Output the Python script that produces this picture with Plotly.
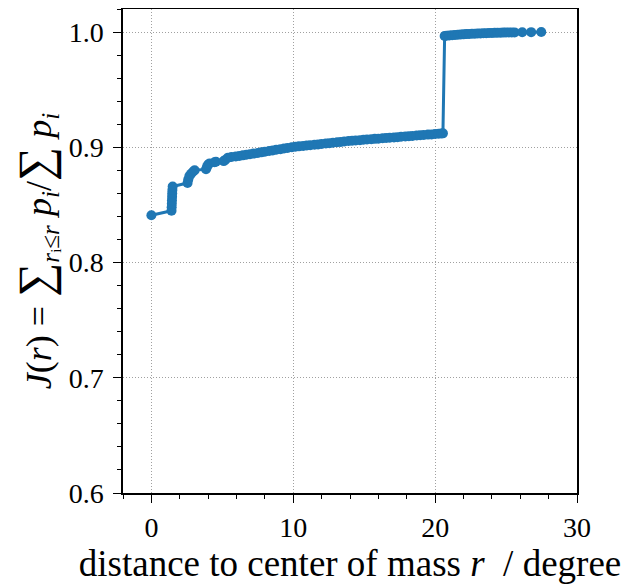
import plotly.graph_objects as go

# distance to center of mass r (degree)
r_values = [
    0.0, 1.42, 1.43, 1.44, 1.45, 1.46, 1.47, 1.48, 1.50,
    2.55, 2.60, 2.68, 2.80, 2.95, 3.05,
    3.85, 3.92, 4.00, 4.10, 4.45, 4.55,
    5.10, 5.20, 5.40, 5.65, 5.95, 6.20, 6.45, 6.70, 6.95, 7.20, 7.50, 7.75,
    8.00, 8.30, 8.55, 8.80, 9.10, 9.35, 9.60, 9.90, 10.15, 10.40, 10.70,
    10.95, 11.20, 11.50, 11.75, 12.00, 12.30, 12.55, 12.80, 13.10, 13.35,
    13.60, 13.90, 14.15, 14.40, 14.70, 14.95, 15.20, 15.50, 15.75, 16.00,
    16.30, 16.55, 16.80, 17.10, 17.35, 17.60, 17.90, 18.15, 18.40, 18.70,
    18.95, 19.20, 19.50, 19.75, 20.00, 20.25, 20.45, 20.55,
    20.67, 20.80, 21.00, 21.20, 21.40, 21.60, 21.80, 22.00, 22.20, 22.40,
    22.60, 22.80, 23.00, 23.20, 23.40, 23.60, 23.80, 24.00, 24.20, 24.40,
    24.60, 24.80, 25.00, 25.20, 25.40, 25.60, 26.14, 26.77, 27.48,
]
# cumulative fraction J(r)
j_values = [
    0.841, 0.845, 0.848, 0.851, 0.854, 0.857, 0.860, 0.863, 0.866,
    0.869, 0.872, 0.875, 0.877, 0.879, 0.880,
    0.881, 0.883, 0.885, 0.886, 0.887, 0.8875,
    0.888, 0.889, 0.891, 0.8915, 0.892, 0.8925, 0.893, 0.8935, 0.894, 0.8945, 0.8951, 0.8956,
    0.8962, 0.8968, 0.8973, 0.8978, 0.8984, 0.8989, 0.8994, 0.9001, 0.9005, 0.9008, 0.9012,
    0.9015, 0.9018, 0.9022, 0.9025, 0.9029, 0.9033, 0.9036, 0.9039, 0.9043, 0.9046,
    0.9050, 0.9054, 0.9057, 0.9059, 0.9062, 0.9065, 0.9067, 0.9070, 0.9073, 0.9075,
    0.9078, 0.9080, 0.9083, 0.9086, 0.9088, 0.9091, 0.9094, 0.9096, 0.9099, 0.9102,
    0.9104, 0.9107, 0.9110, 0.9112, 0.9115, 0.9117, 0.9119, 0.9121,
    0.9965, 0.9968, 0.9971, 0.9973, 0.9975, 0.9977, 0.9979, 0.9980, 0.9982, 0.9983,
    0.9985, 0.9986, 0.9987, 0.9988, 0.9989, 0.9990, 0.9991, 0.9992, 0.9993, 0.9994,
    0.9994, 0.9995, 0.9996, 0.9996, 0.9997, 0.9997, 0.9998, 0.9999, 1.0000,
]

x_ticks = [0, 10, 20, 30]
y_ticks = [0.6, 0.7, 0.8, 0.9, 1.0]

FONT = "Liberation Serif"

fig = go.Figure()
fig.add_trace(go.Scatter(
    x=r_values, y=j_values, mode="lines+markers",
    line=dict(color="#1f77b4", width=3),
    marker=dict(color="#1f77b4", size=10),
    showlegend=False,
))

axis_common = dict(
    showline=True, linecolor="black", linewidth=1.5, mirror=True,
    ticks="outside", ticklen=8, tickwidth=1.2, tickcolor="black",
    showgrid=True, gridcolor="#a0a0a0", gridwidth=0.8, griddash="1px,2px",
    zeroline=False,
    tickfont=dict(family=FONT, size=28, color="black"),
)

fig.update_xaxes(
    range=[-2, 30], tickvals=x_ticks, ticktext=[str(v) for v in x_ticks],
    minor=dict(dtick=2, tick0=0, ticks="outside", ticklen=4.5, tickcolor="black", tickwidth=1, showgrid=False),
    ticklabelstandoff=1,
    title=dict(text="distance to center of mass <i>r</i>  / degree",
               font=dict(family=FONT, size=37, color="black"), standoff=0),
    **axis_common,
)
fig.update_yaxes(
    range=[0.6, 1.02], tickvals=y_ticks, ticktext=[f"{v:.1f}" for v in y_ticks],
    minor=dict(dtick=0.02, tick0=0.6, ticks="outside", ticklen=4.5, tickcolor="black", tickwidth=1, showgrid=False),
    ticklabelstandoff=4,
    title=dict(text="<i>J</i>(<i>r</i>) = <span style='font-size:48px'>∑</span><sub><i>r</i>ᵢ≤<i>r</i></sub> <i>p</i><sub><i>i</i></sub>/<span style='font-size:48px'>∑</span> <i>p</i><sub><i>i</i></sub>",
               font=dict(family=FONT, size=36, color="black"), standoff=12),
    **axis_common,
)

fig.update_layout(
    width=625, height=577,
    margin=dict(l=115, r=56, t=1, b=92, autoexpand=False),
    paper_bgcolor="white", plot_bgcolor="white",
)

fig.write_html("out.html")
